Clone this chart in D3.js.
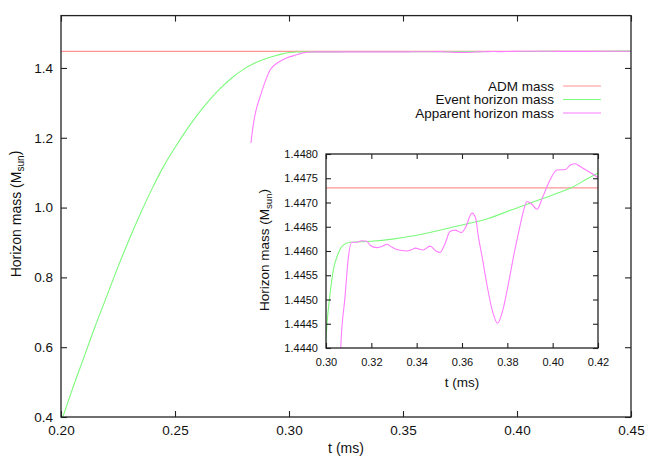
<!DOCTYPE html>
<html>
<head>
<meta charset="utf-8">
<script src="https://cdn.jsdelivr.net/npm/d3@7"></script>
<style>
  body { margin: 0; background: #fff; }
  svg { display: block; font-family: "Liberation Sans", Arial, sans-serif; }
  .tick line { stroke: #222; stroke-width: 1.1; }
  .tick text { fill: #111; }
</style>
</head>
<body>
<svg id="chart" width="654" height="458"></svg>
<script>
// ADM mass (constant)
const admMass = 1.4473;

// event horizon mass
const ehT = [0.200, 0.205, 0.210, 0.215, 0.220, 0.225, 0.230, 0.235, 0.240, 0.245,
  0.250, 0.255, 0.260, 0.265, 0.270, 0.275, 0.280, 0.285, 0.290, 0.294, 0.297,
  0.300, 0.302, 0.3032, 0.3054, 0.3076, 0.3106, 0.320, 0.330, 0.3395, 0.3584,
  0.3716, 0.3819, 0.3951, 0.4025, 0.4084, 0.4157, 0.4216, 0.430, 0.440, 0.450];
const ehMass = [0.385, 0.48, 0.57, 0.66, 0.745, 0.83, 0.91, 0.985, 1.055, 1.118,
  1.172, 1.222, 1.267, 1.307, 1.342, 1.372, 1.396, 1.414, 1.427, 1.435, 1.4403,
  1.4442, 1.4452, 1.4456, 1.44595, 1.44612, 1.44618, 1.4462, 1.44625, 1.44632, 1.44652,
  1.44667, 1.44685, 1.44707, 1.4472, 1.44731, 1.4475, 1.44764, 1.4478, 1.4480, 1.4482];

// apparent horizon mass
const ahT = [0.2833, 0.2845, 0.2860, 0.2873, 0.2895, 0.2917, 0.295, 0.2991, 0.303, 0.305,
  0.3065, 0.3084, 0.3099, 0.3114, 0.3136, 0.3158, 0.318, 0.3194, 0.3224, 0.3250,
  0.3269, 0.3290, 0.3313, 0.3357, 0.3380, 0.3393, 0.3428, 0.3459, 0.3485, 0.3503,
  0.3525, 0.3547, 0.3569, 0.3598, 0.3615, 0.3644, 0.3660, 0.3672, 0.3690, 0.3709,
  0.3735, 0.3757, 0.3780, 0.3805, 0.3830, 0.3849, 0.3870, 0.3886, 0.3905, 0.3931,
  0.3955, 0.3982, 0.4019, 0.4056, 0.4080, 0.4099, 0.4125, 0.4151, 0.4195, 0.4220,
  0.430, 0.440, 0.450];
const ahMass = [1.185, 1.245, 1.29, 1.317, 1.36, 1.394, 1.415, 1.429, 1.437, 1.441,
  1.4440, 1.44506, 1.44588, 1.44618, 1.44618, 1.44621, 1.4462, 1.44612, 1.44607, 1.4461,
  1.44614, 1.44608, 1.44603, 1.44600, 1.44603, 1.44606, 1.44602, 1.44610, 1.44600, 1.44597,
  1.44615, 1.4464, 1.44643, 1.44638, 1.44648, 1.44678, 1.44668, 1.4463, 1.44585, 1.44533,
  1.44475, 1.44451, 1.44478, 1.44533, 1.44595, 1.44637, 1.4468, 1.44702, 1.44698, 1.44686,
  1.4471, 1.4474, 1.44767, 1.44768, 1.44778, 1.4478, 1.44773, 1.44766, 1.44753, 1.44745,
  1.4475, 1.4477, 1.4478];

const mainXTicks = [0.20, 0.25, 0.30, 0.35, 0.40, 0.45];
const mainYTicks = [0.4, 0.6, 0.8, 1.0, 1.2, 1.4];
const insetXTicks = [0.30, 0.32, 0.34, 0.36, 0.38, 0.40, 0.42];
const insetYTicks = [1.4440, 1.4445, 1.4450, 1.4455, 1.4460, 1.4465, 1.4470, 1.4475, 1.4480];

const seriesNames = ["ADM mass", "Event horizon mass", "Apparent horizon mass"];
const colors = ["#ff9494", "#7cfa7c", "#ff7cff"];

const svg = d3.select("#chart");

const eh = ehT.map((t, i) => [t, ehMass[i]]);
const ah = ahT.map((t, i) => [t, ahMass[i]]);

function drawPlot(id, box, xDom, yDom, xTicks, yTicks, xFmt, yFmt, opt) {
  const x = d3.scaleLinear().domain(xDom).range([box.left, box.right]);
  const y = d3.scaleLinear().domain(yDom).range([box.bottom, box.top]);
  const g = svg.append("g");

  g.append("rect")
    .attr("x", box.left).attr("y", box.top)
    .attr("width", box.right - box.left).attr("height", box.bottom - box.top)
    .attr("fill", "#fff");

  svg.append("clipPath").attr("id", id)
    .append("rect")
    .attr("x", box.left).attr("y", box.top)
    .attr("width", box.right - box.left).attr("height", box.bottom - box.top);

  const lines = g.append("g").attr("clip-path", `url(#${id})`);
  lines.append("line")
    .attr("x1", box.left).attr("x2", box.right)
    .attr("y1", y(admMass)).attr("y2", y(admMass))
    .attr("stroke", colors[0]).attr("stroke-width", 1.2);
  const line = d3.line().x(d => x(d[0])).y(d => y(d[1])).curve(d3.curveMonotoneX);
  [eh, ah].forEach((s, i) => {
    lines.append("path").datum(s)
      .attr("d", line)
      .attr("fill", "none")
      .attr("stroke", colors[i + 1])
      .attr("stroke-width", 1.1);
  });

  const tl = opt.tick;
  const axB = g.append("g").attr("transform", `translate(0,${box.bottom})`)
    .call(d3.axisBottom(x).tickValues(xTicks).tickFormat(d3.format(xFmt))
      .tickSizeInner(-tl).tickSizeOuter(0).tickPadding(opt.padX));
  const axL = g.append("g").attr("transform", `translate(${box.left},0)`)
    .call(d3.axisLeft(y).tickValues(yTicks).tickFormat(d3.format(yFmt))
      .tickSizeInner(-tl).tickSizeOuter(0).tickPadding(opt.padY));
  const axT = g.append("g").attr("transform", `translate(0,${box.top})`)
    .call(d3.axisTop(x).tickValues(xTicks).tickFormat("")
      .tickSizeInner(-tl).tickSizeOuter(0));
  const axR = g.append("g").attr("transform", `translate(${box.right},0)`)
    .call(d3.axisRight(y).tickValues(yTicks).tickFormat("")
      .tickSizeInner(-tl).tickSizeOuter(0));
  [axB, axL, axT, axR].forEach(a => {
    a.select(".domain").remove();
    a.selectAll("text").attr("font-size", opt.tickFont).attr("font-family", null);
  });

  g.append("rect")
    .attr("x", box.left).attr("y", box.top)
    .attr("width", box.right - box.left).attr("height", box.bottom - box.top)
    .attr("fill", "none").attr("stroke", "#222").attr("stroke-width", 1.3);

  // axis titles
  g.append("text")
    .attr("x", opt.xLab[0]).attr("y", opt.xLab[1])
    .attr("text-anchor", "middle").attr("font-size", opt.labFont).attr("fill", "#111")
    .text("t (ms)");
  const yl = g.append("text")
    .attr("transform", `translate(${opt.yLab[0]},${opt.yLab[1]}) rotate(-90)`)
    .attr("text-anchor", "middle").attr("font-size", opt.labFont).attr("fill", "#111");
  yl.append("tspan").text("Horizon mass (M");
  yl.append("tspan").attr("dy", "0.3em").attr("font-size", "0.72em").text("sun");
  yl.append("tspan").attr("dy", "-0.3em").text(")");
}

// main plot
drawPlot("clipMain", { left: 61, right: 631, top: 15.6, bottom: 417 },
  [0.20, 0.45], [0.4, 1.55], mainXTicks, mainYTicks, ".2f", ".1f",
  { tick: 6, padX: 8, padY: 8, tickFont: 13.5, labFont: 14, xLab: [346, 453], yLab: [21, 214] });

// legend
const legend = svg.append("g");
seriesNames.forEach((name, i) => {
  const ly = 86 + i * 13.5;
  legend.append("text")
    .attr("x", 554).attr("y", ly).attr("dy", "0.35em")
    .attr("text-anchor", "end").attr("font-size", 13.5).attr("fill", "#111")
    .text(name);
  legend.append("line")
    .attr("x1", 563).attr("x2", 601).attr("y1", ly).attr("y2", ly)
    .attr("stroke", colors[i]).attr("stroke-width", 1.2);
});

// inset plot
drawPlot("clipInset", { left: 326, right: 598, top: 154, bottom: 348 },
  [0.30, 0.42], [1.444, 1.448], insetXTicks, insetYTicks, ".2f", ".4f",
  { tick: 5, padX: 10, padY: 8, tickFont: 11, labFont: 13.5, xLab: [462, 387], yLab: [269, 250] });
</script>
</body>
</html>
